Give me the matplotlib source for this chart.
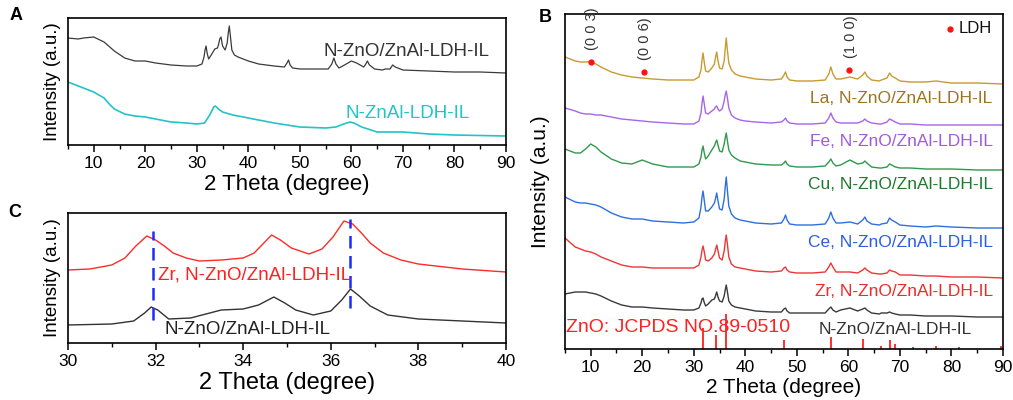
import matplotlib
matplotlib.use("Agg")
import matplotlib.pyplot as plt

plt.rcParams['font.family'] = ['Liberation Sans', 'DejaVu Sans']

# ---- panel A data: (2 theta, intensity a.u.) ----
a_zno = [(5, 107), (7, 106), (8, 107), (10, 108), (12, 103), (14, 94), (16, 87), (18, 84), (20, 84),
         (22, 82), (25, 80), (28, 79), (30, 79), (31.0, 81), (31.4, 88), (31.6, 95), (31.8, 99),
         (32.0, 92), (32.3, 86), (32.8, 90), (33.5, 96), (34.0, 97), (34.2, 100), (34.45, 106),
         (34.7, 108), (35.0, 99), (35.5, 95), (35.9, 102), (36.1, 112), (36.3, 119), (36.5, 110),
         (36.8, 95), (37.3, 90), (38, 88), (40, 84), (42, 81), (45, 79), (47.0, 78), (47.5, 82),
         (47.8, 85), (48.1, 80), (48.6, 77), (50, 76), (53, 76), (55.5, 76), (56.2, 81), (56.6, 87),
         (57.0, 81), (57.6, 77), (59, 81), (60, 84), (61, 82), (62.4, 78), (62.8, 81), (63.1, 84),
         (63.5, 80), (64.5, 76), (66, 75), (66.6, 76), (67.5, 76), (68, 80), (68.5, 78), (69, 77),
         (70, 75), (75, 74), (80, 73), (85, 73), (90, 72)]
a_ldh = [(5, 63), (7, 59), (8, 57), (10, 53), (12, 47), (13, 41), (14, 36), (16, 31), (18, 29),
         (20, 28), (22, 26), (25, 23), (28, 22), (30, 21), (31.5, 22), (32.5, 30), (33.3, 38),
         (33.6, 39), (34.2, 36), (35, 33), (37, 30), (40, 27), (45, 22), (50, 18), (55, 17),
         (57, 18), (58.5, 21), (59.7, 23), (60.5, 22), (62, 18), (65, 13), (70, 13), (75, 11),
         (80, 10), (90, 9)]

# ---- panel C data ----
c_zr = [(30, 73), (30.5, 74), (31, 78), (31.3, 85), (31.55, 97), (31.8, 107), (32.0, 103),
        (32.2, 97), (32.4, 90), (32.7, 85), (33, 82), (33.5, 83), (34, 85), (34.25, 90),
        (34.45, 99), (34.65, 108), (34.85, 103), (35.1, 95), (35.5, 89), (35.8, 94), (36.05, 106),
        (36.3, 122), (36.5, 119), (36.7, 110), (36.9, 100), (37.2, 90), (37.6, 83), (38, 79),
        (39, 74), (40, 71)]
c_zno = [(30, 18), (31, 19), (31.5, 22), (31.75, 30), (31.9, 36), (32.05, 33), (32.3, 24),
         (32.8, 25), (33.5, 33), (34, 34), (34.35, 38), (34.7, 46), (34.95, 40), (35.2, 33),
         (35.6, 28), (36, 32), (36.25, 43), (36.45, 54), (36.65, 47), (36.9, 37), (37.3, 28),
         (38, 24), (39, 22), (40, 20)]
c_shift = [31.95, 36.45]

# ---- panel B data (common 2 theta grid) ----
b_x = [5, 7, 8, 9, 10, 11, 12,
       14, 16, 18, 20, 22, 25, 28, 30,
       31.0, 31.4, 31.6, 31.8, 32.0, 32.3, 32.8,
       33.5, 34.0, 34.2, 34.45, 34.7, 35.0, 35.5,
       35.9, 36.1, 36.3, 36.5, 36.8, 37.3, 38.0,
       39, 40, 42, 45,
       47.0, 47.5, 47.8, 48.1, 48.6,
       50, 53,
       55.5, 56.2, 56.6, 57.0, 57.6, 58.5,
       60.3, 61.8, 62.8, 63.2, 63.6, 64.5,
       66.0, 66.4, 67.5, 68.0, 68.4, 69.1,
       70, 72, 75, 77, 80, 85, 90]
b_la = [292, 288, 287, 287, 287, 285, 282,
        277, 274, 272, 271, 270, 269, 269, 269,
        272, 279, 289, 296, 288, 278, 277,
        281, 285, 291, 297, 288, 281, 280,
        288, 300, 311, 300, 286, 279, 275,
        273, 272, 270, 269,
        270, 274, 277, 272, 269,
        268, 268,
        269, 275, 282, 275, 270, 270,
        272, 270, 274, 277, 273, 269,
        268, 269, 271, 276, 273, 271,
        268, 267, 267, 268, 266, 266, 265]
b_fe = [241, 238, 236, 235, 235, 234, 234,
        232, 230, 229, 228, 227, 226, 225, 225,
        228, 236, 246, 253, 246, 236, 235,
        238, 240, 242, 243, 240, 238, 240,
        248, 254, 258, 252, 241, 234, 231,
        229, 228, 227, 226,
        227, 229, 231, 228, 226,
        225, 225,
        226, 231, 236, 231, 227, 226,
        226, 226, 228, 230, 228, 226,
        225, 225, 227, 230, 229, 227,
        225, 225, 224, 224, 224, 224, 224]
b_cu = [200, 196, 196, 200, 205, 202, 197,
        190, 186, 185, 189, 185, 182, 182, 182,
        185, 192, 199, 203, 197, 190, 193,
        199, 203, 206, 209, 204, 198, 197,
        205, 211, 216, 209, 199, 194, 191,
        188, 187, 185, 184,
        184, 186, 188, 185, 183,
        182, 182,
        183, 187, 190, 186, 183, 184,
        189, 185, 186, 188, 186, 182,
        181, 181, 182, 185, 184, 182,
        181, 181, 180, 180, 180, 179, 179]
b_ce = [152, 147, 146, 146, 145, 144, 142,
        136, 132, 130, 130, 128, 127, 126, 127,
        131, 142, 152, 158, 150, 138, 138,
        142, 146, 150, 156, 148, 140, 139,
        150, 162, 172, 160, 143, 135, 131,
        129, 128, 126, 125,
        126, 130, 134, 129, 125,
        124, 124,
        125, 131, 137, 131, 126, 126,
        127, 125, 129, 132, 128, 125,
        124, 125, 126, 131, 129, 127,
        124, 123, 122, 123, 122, 121, 121]
b_zr = [111, 102, 100, 98, 97, 95, 92,
        88, 84, 82, 82, 81, 81, 81, 81,
        84, 92, 99, 103, 98, 89, 88,
        91, 95, 99, 104, 98, 91, 89,
        98, 107, 114, 106, 92, 85, 82,
        81, 80, 78, 77,
        78, 81, 82, 79, 77,
        76, 76,
        77, 82, 86, 82, 77, 77,
        77, 76, 79, 81, 79, 76,
        75, 75, 76, 79, 78, 77,
        74, 74, 73, 73, 72, 72, 71]
b_zno = [55, 57, 57, 57, 56, 55, 53,
         48, 44, 42, 42, 41, 40, 39, 39,
         41, 46, 50, 51, 47, 43, 45,
         49, 50, 53, 57, 52, 48, 47,
         53, 59, 64, 58, 48, 44, 42,
         41, 40, 38, 37,
         37, 40, 41, 38, 36,
         36, 36,
         36, 40, 42, 39, 37, 39,
         41, 38, 40, 41, 39, 36,
         35, 36, 36, 37, 36, 35,
         34, 34, 33, 33, 33, 32, 32]
b_labels = ['La, N-ZnO/ZnAl-LDH-IL', 'Fe, N-ZnO/ZnAl-LDH-IL', 'Cu, N-ZnO/ZnAl-LDH-IL',
            'Ce, N-ZnO/ZnAl-LDH-IL', 'Zr, N-ZnO/ZnAl-LDH-IL']
b_label_y = [250, 207, 164, 106, 57]
b_colors = ['#c99a30', '#a765e8', '#2f9a4c', '#2e6fe0', '#ee3535']
b_text_colors = ['#9c7424', '#a05ae0', '#22782c', '#2a5fe0', '#ee2a2a']
ldh_x = [10, 20.3, 60.2]
ldh_y = [287, 277, 279]
ldh_hkl = ['(0 0 3)', '(0 0 6)', '(1 0 0)']
jcpds_x = [31.8, 34.4, 36.3, 47.5, 56.6, 62.9, 66.4, 68.0, 69.1, 72.6, 77.0, 81.4, 89.6]
jcpds_h = [21, 14, 35, 9, 12, 10, 3, 9, 5, 2, 3, 2, 3]

fig = plt.figure(figsize=(10.13, 4.0), dpi=100)
axA = fig.add_axes([0.0671, 0.6375, 0.4324, 0.3175])
axC = fig.add_axes([0.0671, 0.1425, 0.4324, 0.325])
axB = fig.add_axes([0.5577, 0.1275, 0.4324, 0.8375])


def style(ax, major, minor, xl_size, yl_size):
    ax.set_xticks(major)
    ax.set_xticks(minor, minor=True)
    ax.set_yticks([])
    ax.tick_params(axis='x', which='major', direction='out', length=5, width=1.1, labelsize=12.5, pad=3)
    ax.tick_params(axis='x', which='minor', direction='out', length=3, width=1.0)
    for s in ax.spines.values():
        s.set_linewidth(1.2)
    ax.set_xlabel('2 Theta (degree)', fontsize=xl_size, labelpad=2)
    ax.set_ylabel('Intensity (a.u.)', fontsize=yl_size, labelpad=5)


# A
x, y = zip(*a_zno)
axA.plot(x, y, color='#3a3a3a', lw=0.9)
x, y = zip(*a_ldh)
axA.plot(x, y, color='#22c4c8', lw=1.2)
axA.set_xlim(5, 90)
axA.set_ylim(0, 127)
style(axA, range(10, 91, 10), range(5, 91, 5), 16, 13.5)
axA.text(54.5, 93, 'N-ZnO/ZnAl-LDH-IL', color='#333333', fontsize=13.5, va='center')
axA.text(58.8, 32, 'N-ZnAl-LDH-IL', color='#22c4c8', fontsize=13.5, va='center')

# C
x, y = zip(*c_zr)
axC.plot(x, y, color='#ff2a2a', lw=1.0)
x, y = zip(*c_zno)
axC.plot(x, y, color='#333333', lw=1.0)
axC.vlines(c_shift[0], 23, 112, colors='#1a2cff', linestyles=(0, (5, 3)), lw=1.8)
axC.vlines(c_shift[1], 35, 124, colors='#1a2cff', linestyles=(0, (5, 3)), lw=1.8)
axC.set_xlim(30, 40)
axC.set_ylim(0, 130)
style(axC, range(30, 41, 2), range(30, 41, 1), 17, 13.5)
axC.text(32.05, 68, 'Zr, N-ZnO/ZnAl-LDH-IL', color='#ff2020', fontsize=13.5, va='center')
axC.text(32.2, 13, 'N-ZnO/ZnAl-LDH-IL', color='#222222', fontsize=13.5, va='center')

# B
for ys, c in zip([b_la, b_fe, b_cu, b_ce, b_zr], b_colors):
    axB.plot(b_x, ys, color=c, lw=1.0)
axB.plot(b_x, b_zno, color='#3a3a3a', lw=1.0)
axB.vlines(jcpds_x, 0, jcpds_h, colors='#ff2020', lw=1.3)
axB.plot(ldh_x, ldh_y, 'o', color='#ff1010', ms=3.5)
for x, y, t in zip(ldh_x, ldh_y, ldh_hkl):
    axB.text(x + 0.3, y + 12, t, rotation=90, fontsize=10.5, ha='center', va='bottom', color='#333333')
axB.plot([79.7], [320], 'o', color='#ff1010', ms=3.5)
axB.text(81.3, 320, 'LDH', fontsize=12, va='center', color='#111111')
for t, y, c in zip(b_labels, b_label_y, b_text_colors):
    axB.text(88, y, t, color=c, fontsize=12.5, ha='right', va='center')
axB.text(84, 19, 'N-ZnO/ZnAl-LDH-IL', color='#333333', fontsize=12.5, ha='right', va='center')
axB.text(5.3, 22, 'ZnO: JCPDS NO.89-0510', color='#ff2020', fontsize=14, ha='left', va='center')
axB.set_xlim(5, 90)
axB.set_ylim(0, 335)
style(axB, range(10, 91, 10), range(5, 91, 5), 15, 15)
axB.yaxis.set_label_coords(-0.035, 0.5)

fig.text(0.016, 0.962, 'A', fontsize=13, fontweight='bold', va='center', ha='center')
fig.text(0.015, 0.468, 'C', fontsize=13, fontweight='bold', va='center', ha='center')
fig.text(0.5385, 0.955, 'B', fontsize=13, fontweight='bold', va='center', ha='center')

fig.savefig('out.png', dpi=100)
